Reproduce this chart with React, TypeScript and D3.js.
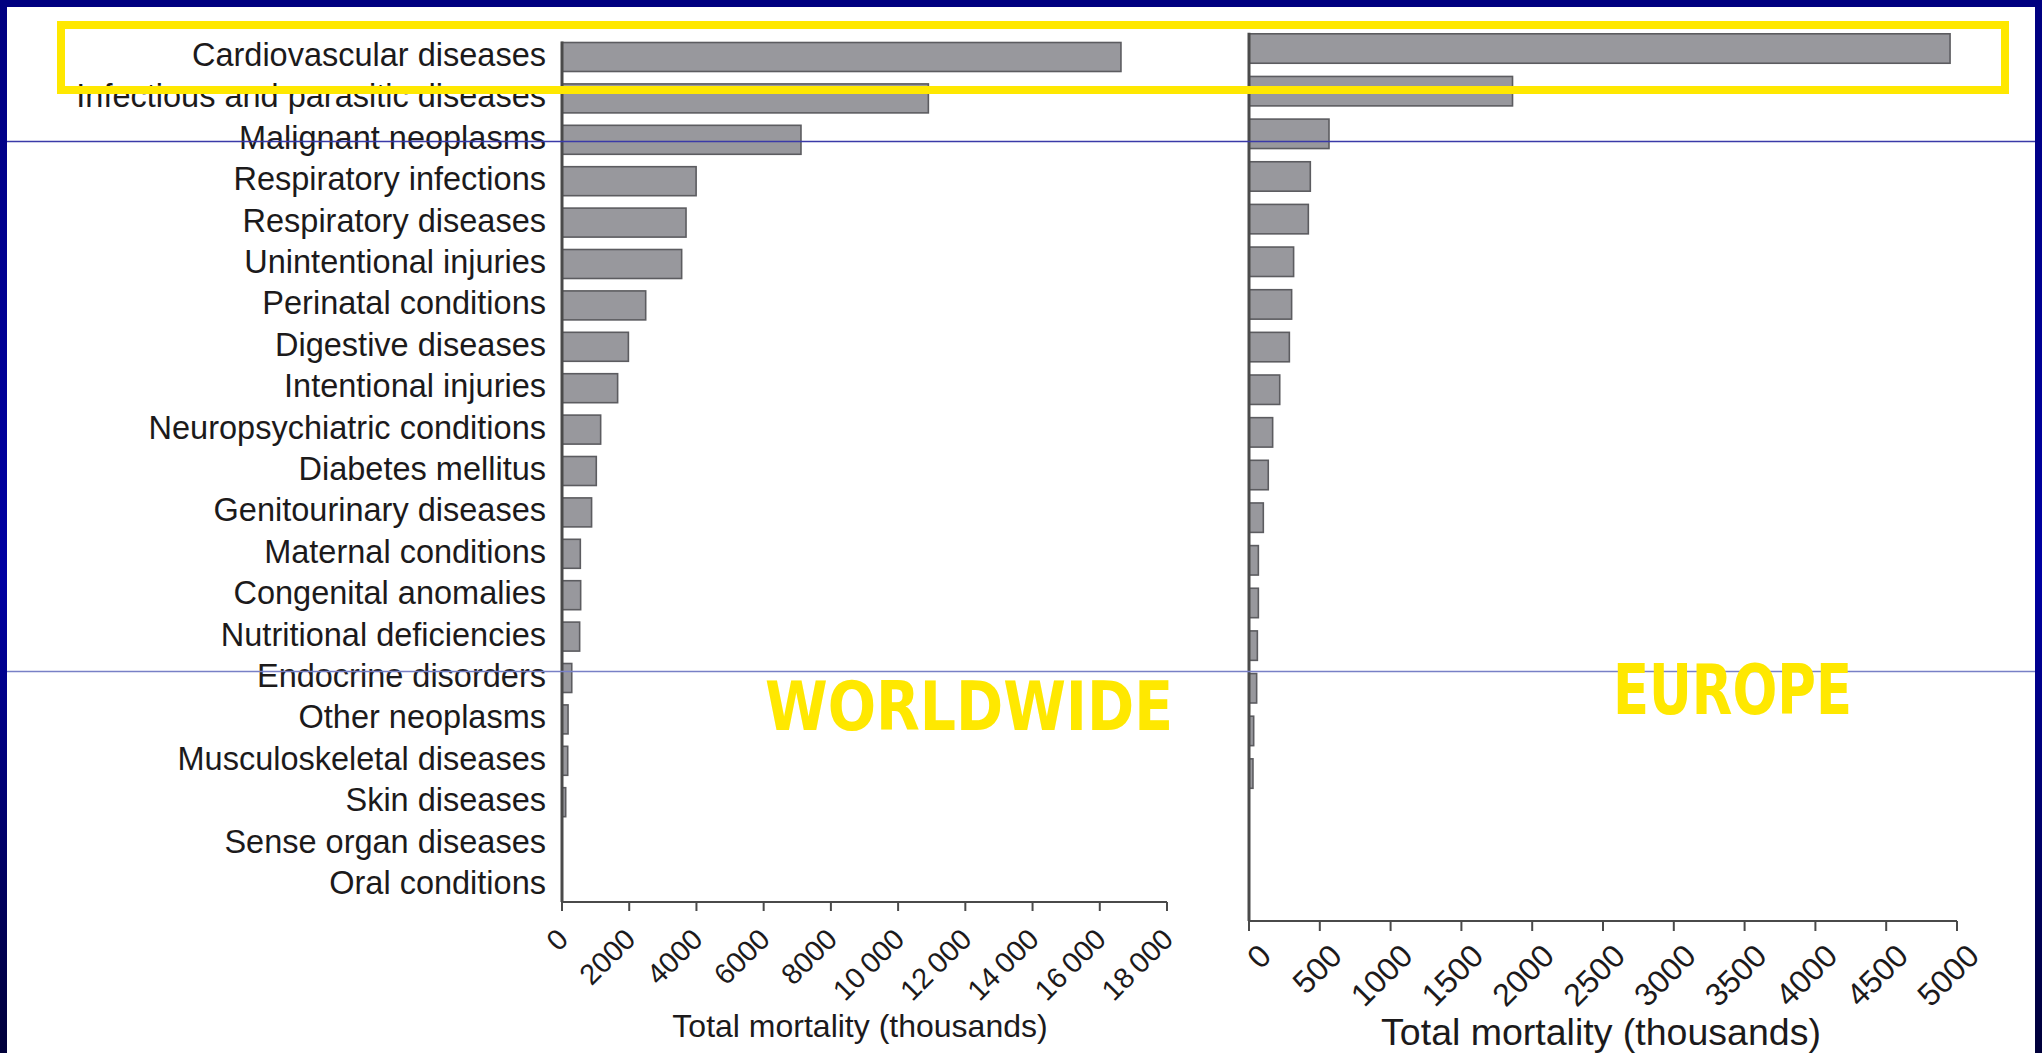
import React from 'react';
import * as d3 from 'd3';

const categories = [
  'Cardiovascular diseases',
  'Infectious and parasitic diseases',
  'Malignant neoplasms',
  'Respiratory infections',
  'Respiratory diseases',
  'Unintentional injuries',
  'Perinatal conditions',
  'Digestive diseases',
  'Intentional injuries',
  'Neuropsychiatric conditions',
  'Diabetes mellitus',
  'Genitourinary diseases',
  'Maternal conditions',
  'Congenital anomalies',
  'Nutritional deficiencies',
  'Endocrine disorders',
  'Other neoplasms',
  'Musculoskeletal diseases',
  'Skin diseases',
  'Sense organ diseases',
  'Oral conditions',
];

const worldValues = [16630, 10900, 7110, 3990, 3690, 3560, 2490, 1975, 1655, 1150, 1020, 880, 545, 555, 525, 290, 180, 170, 110, 0, 0];
const europeValues = [4951, 1861, 565, 433, 419, 315, 301, 285, 217, 167, 136, 101, 66, 66, 59, 54, 33, 28, 0, 0, 0];

const worldTicks = [0, 2000, 4000, 6000, 8000, 10000, 12000, 14000, 16000, 18000];
const europeTicks = [0, 500, 1000, 1500, 2000, 2500, 3000, 3500, 4000, 4500, 5000];

const axisTitle = 'Total mortality (thousands)';
const worldLabel = 'WORLDWIDE';
const europeLabel = 'EUROPE';

const W = 2042;
const H = 1053;
const FONT = '"Liberation Sans", Arial, Helvetica, sans-serif';
const TEXT = '#1c1a1b';
const AXIS = '#4a4a4a';
const BAR_FILL = '#98989d';
const BAR_STROKE = '#5c5c60';
const YELLOW = '#ffe800';

function fmtTick(v: number): string {
  if (v >= 10000) return d3.format(',')(v).replace(',', '\u2009');
  return String(v);
}

type PanelProps = {
  values: number[];
  ticks: number[];
  domainMax: number;
  xRange: [number, number];
  yRange: [number, number];
  padInner: number;
  baseline: number;
  tickLen: number;
  tickFont: number;
  labelDx: number;
  labelDy: number;
  titleX: number;
  titleY: number;
  titleFont: number;
  showCategories: boolean;
};

function Panel(p: PanelProps) {
  const x = d3.scaleLinear().domain([0, p.domainMax]).range(p.xRange);
  const y = d3
    .scaleBand<string>()
    .domain(categories)
    .range(p.yRange)
    .paddingInner(p.padInner)
    .paddingOuter(p.padInner / 2);
  const bw = y.bandwidth();
  const x0 = x(0);
  const axisTop = (y(categories[0]) as number) - 1;
  return (
    <g>
      {p.showCategories &&
        categories.map((c) => (
          <text
            key={c}
            x={x0 - 16}
            y={(y(c) as number) + bw / 2 + 9}
            textAnchor="end"
            fontFamily={FONT}
            fontSize={32.5}
            fill={TEXT}
          >
            {c}
          </text>
        ))}
      {categories.map((c, i) =>
        p.values[i] > 0 ? (
          <rect
            key={c}
            x={x0}
            y={y(c) as number}
            width={Math.max(x(p.values[i]) - x0, 1.5)}
            height={bw}
            fill={BAR_FILL}
            stroke={BAR_STROKE}
            strokeWidth={1.6}
          />
        ) : null
      )}
      <line x1={x0} x2={x0} y1={axisTop} y2={p.baseline} stroke={AXIS} strokeWidth={3} />
      <line x1={x0} x2={x(p.domainMax)} y1={p.baseline} y2={p.baseline} stroke={AXIS} strokeWidth={2.2} />
      {p.ticks.map((t) => (
        <g key={t}>
          <line x1={x(t)} x2={x(t)} y1={p.baseline} y2={p.baseline + p.tickLen} stroke={AXIS} strokeWidth={2} />
          <text
            transform={`translate(${x(t) + p.labelDx},${p.baseline + p.labelDy}) rotate(-45)`}
            textAnchor="end"
            fontFamily={FONT}
            fontSize={p.tickFont}
            fill={TEXT}
          >
            {fmtTick(t)}
          </text>
        </g>
      ))}
      <text x={p.titleX} y={p.titleY} textAnchor="middle" fontFamily={FONT} fontSize={p.titleFont} fill={TEXT}>
        {axisTitle}
      </text>
    </g>
  );
}

export default function App() {
  return (
    <svg
      width={W}
      height={H}
      viewBox={`0 0 ${W} ${H}`}
      style={{ position: 'absolute', left: 0, top: 0, display: 'block' }}
    >
      <defs>
        <linearGradient id="frame" x1="0" y1="0" x2="0" y2="1">
          <stop offset="0" stopColor="#000080" />
          <stop offset="0.55" stopColor="#0000a2" />
          <stop offset="1" stopColor="#00003a" />
        </linearGradient>
      </defs>
      <rect x={0} y={0} width={W} height={H} fill="url(#frame)" />
      <rect x={7} y={7} width={2028} height={H - 7} fill="#ffffff" />

      <Panel
        values={worldValues}
        ticks={worldTicks}
        domainMax={18000}
        xRange={[562, 1167]}
        yRange={[36.3, 905.7]}
        padInner={0.3}
        baseline={902}
        tickLen={9}
        tickFont={29}
        labelDx={8}
        labelDy={39}
        titleX={860}
        titleY={1037}
        titleFont={32}
        showCategories={true}
      />
      <Panel
        values={europeValues}
        ticks={europeTicks}
        domainMax={5000}
        xRange={[1249, 1957]}
        yRange={[27.2, 922.85]}
        padInner={0.31}
        baseline={921}
        tickLen={10}
        tickFont={32}
        labelDx={24}
        labelDy={37}
        titleX={1601}
        titleY={1045}
        titleFont={37.5}
        showCategories={false}
      />

      <line x1={7} x2={2035} y1={141.5} y2={141.5} stroke="#3a3aa8" strokeWidth={1.3} />
      <line x1={7} x2={2035} y1={671.5} y2={671.5} stroke="#7880c6" strokeWidth={1.3} />

      <rect x={61} y={25} width={1944} height={65} fill="none" stroke={YELLOW} strokeWidth={8} />

      <text
        x={765}
        y={730}
        fontFamily='"Comic Sans MS", "DejaVu Sans", sans-serif'
        fontWeight="bold"
        fontSize={67}
        fill={YELLOW}
        textLength={408}
        lengthAdjust="spacingAndGlyphs"
      >
        {worldLabel}
      </text>
      <text
        x={1613}
        y={714}
        fontFamily='"Comic Sans MS", "DejaVu Sans", sans-serif'
        fontWeight="bold"
        fontSize={70}
        fill={YELLOW}
        textLength={239}
        lengthAdjust="spacingAndGlyphs"
      >
        {europeLabel}
      </text>
    </svg>
  );
}
